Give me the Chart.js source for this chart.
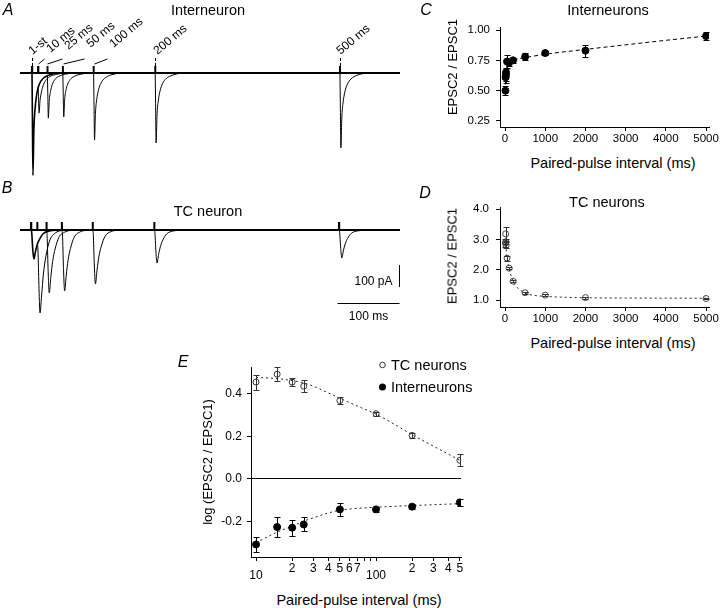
<!DOCTYPE html>
<html>
<head>
<meta charset="utf-8">
<script src="https://cdn.jsdelivr.net/npm/chart.js@4.4.1/dist/chart.umd.min.js"></script>
<style>
  body { margin: 0; background: #fff; }
  #fig { position: relative; width: 720px; height: 608px; overflow: hidden;
         font-family: 'Liberation Sans', Arial, sans-serif; color: #000; }
  #fig canvas { position: absolute; }
  .lbl { position: absolute; white-space: nowrap; line-height: 1; transform: translate(-50%, -50%); }
  .letter { font-style: italic; font-size: 16px; }
  .ttl { font-size: 14.5px; }
  .ax { font-size: 14.5px; }
  .yax { font-size: 13px; transform: translate(-50%, -50%) rotate(-90deg); }
</style>
</head>
<body>
<div id="fig">
  <canvas id="chartA" width="420" height="180" style="left:0px;top:0px"></canvas>
  <canvas id="chartB" width="420" height="150" style="left:0px;top:185px"></canvas>
  <canvas id="chartC" width="290" height="150" style="left:430px;top:0px"></canvas>
  <canvas id="chartD" width="290" height="145" style="left:430px;top:185px"></canvas>
  <canvas id="chartE" width="300" height="225" style="left:180px;top:355px"></canvas>

  <div class="lbl letter" style="left:8px;top:10px">A</div>
  <div class="lbl letter" style="left:7px;top:188px">B</div>
  <div class="lbl letter" style="left:426px;top:10px">C</div>
  <div class="lbl letter" style="left:425px;top:193px">D</div>
  <div class="lbl letter" style="left:183px;top:362px">E</div>

  <div class="lbl ttl" style="left:208px;top:10px">Interneuron</div>
  <div class="lbl ttl" style="left:208px;top:211px">TC neuron</div>
  <div class="lbl ttl" style="left:608px;top:10px">Interneurons</div>
  <div class="lbl ttl" style="left:607px;top:202px">TC neurons</div>

  <div class="lbl ax" style="left:613px;top:163px">Paired-pulse interval (ms)</div>
  <div class="lbl ax" style="left:613px;top:343px">Paired-pulse interval (ms)</div>
  <div class="lbl ax" style="left:359px;top:600px">Paired-pulse interval (ms)</div>
  <div class="lbl yax" style="left:452px;top:67px">EPSC2 / EPSC1</div>
  <div class="lbl yax" style="left:452px;top:256px">EPSC2 / EPSC1</div>
  <div class="lbl yax" style="left:207px;top:462px">log (EPSC2 / EPSC1)</div>
</div>

<script>
// === DATA ===
// stimulus times (ms) and their labels, panels A/B
const stimTimes  = [0, 10, 25, 50, 100, 200, 500];
const stimLabels = ['1-st', '10 ms', '25 ms', '50 ms', '100 ms', '200 ms', '500 ms'];

// panel A, interneuron EPSCs (pA) at ms after each stimulus
const aOffsets = [0, 0.6, 1.5, 3, 5, 8, 12, 18, 28, 42];
const aFirst = [0, -186, -465, -260, -160, -90, -50, -25, -9, 0];
const a10    = [-60, -120, -182, -125, -90, -58, -35, -18, -7, 0];
const a25    = [-14, -90, -205, -125, -85, -52, -30, -16, -6, 0];
const a50    = [-2, -82, -200, -120, -80, -50, -30, -16, -6, 0];
const a100   = [0, -122, -305, -183, -122, -76, -46, -24, -9, 0];
const a200   = [0, -127, -318, -190, -127, -80, -48, -25, -10, 0];
const a500   = [0, -136, -340, -204, -136, -85, -51, -27, -10, 0];

// panel B, TC neuron EPSCs (pA)
const bOffsets = [0, 1, 2.5, 4.5, 7, 10, 14, 20, 30, 45];
const bFirst = [0, -10, -80, -132, -100, -66, -40, -16, -4, 0];
const b10    = [-66, -80, -230, -377, -300, -200, -120, -50, -12, 0];
const b25    = [-5, -25, -170, -286, -215, -143, -86, -34, -9, 0];
const b50    = [0, -22, -166, -277, -208, -138, -83, -33, -8, 0];
const b100   = [0, -20, -147, -245, -184, -122, -74, -29, -7, 0];
const b200   = [0, -12, -90, -150, -112, -75, -45, -18, -5, 0];
const b500   = [0, -10, -76, -127, -95, -63, -38, -15, -4, 0];

// panel C, interneurons
const cIntervals = [10, 15, 20, 25, 50, 100, 200, 500, 1000, 2000, 5000];
const cRatio = [0.50, 0.61, 0.63, 0.65, 0.74, 0.73, 0.75, 0.78, 0.81, 0.83, 0.95];
const cErr   = [0.04, 0.05, 0.05, 0.04, 0.05, 0.03, 0.02, 0.03, 0.02, 0.05, 0.03];
const cFitX  = [10, 20, 35, 60, 100, 200, 500, 1000, 2000, 3000, 4000, 5000];
const cFitY  = [0.55, 0.63, 0.68, 0.715, 0.735, 0.75, 0.772, 0.80, 0.84, 0.878, 0.915, 0.95];
const cTicksX = [0, 1000, 2000, 3000, 4000, 5000];
const cTicksY = [0.25, 0.50, 0.75, 1.00];

// panel D, TC neurons
const dRatio = [2.88, 3.18, 2.92, 2.80, 2.38, 2.05, 1.62, 1.24, 1.16, 1.08, 1.05];
const dErr   = [0.12, 0.24, 0.08, 0.10, 0.08, 0.04, 0.04, 0.03, 0.03, 0.03, 0.03];
const dFitX  = [10, 25, 50, 100, 200, 300, 500, 700, 1000, 1500, 2000, 3000, 5000];
const dFitY  = [3.0, 2.75, 2.4, 2.05, 1.62, 1.42, 1.23, 1.16, 1.12, 1.09, 1.075, 1.065, 1.06];
const dTicksY = [1.0, 2.0, 3.0, 4.0];

// panel E, log ratios
const eIntervals = [10, 15, 20, 25, 50, 100, 200, 500];
const eTcLog = [0.456, 0.493, 0.456, 0.437, 0.369, 0.307, 0.205, 0.088];
const eTcErr = [0.035, 0.032, 0.018, 0.028, 0.017, 0.010, 0.012, 0.028];
const eInLog = [-0.308, -0.226, -0.229, -0.214, -0.143, -0.143, -0.130, -0.110];
const eInErr = [0.034, 0.045, 0.037, 0.033, 0.031, 0.010, 0.012, 0.015];
const eFitX  = [10, 15, 20, 25, 30, 40, 50, 70, 100, 150, 200, 300, 500];
const eTcFit = [0.478, 0.472, 0.463, 0.452, 0.437, 0.405, 0.38, 0.343, 0.305, 0.25, 0.208, 0.155, 0.088];
const eInFit = [-0.30, -0.25, -0.222, -0.198, -0.183, -0.16, -0.147, -0.138, -0.133, -0.128, -0.125, -0.121, -0.116];
const eTicksX = [10, 20, 30, 40, 50, 60, 70, 80, 90, 100, 200, 300, 400, 500];
const eTickLabels = ['10', '2', '3', '4', '5', '6', '7', '', '', '100', '2', '3', '4', '5'];
const eTicksY = [-0.2, 0.0, 0.2, 0.4];
const legendNames = ['TC neurons', 'Interneurons'];

// === DEFAULTS ===
const FONT = "'Liberation Sans', Arial, sans-serif";
Chart.defaults.font.family = FONT;
Chart.defaults.color = '#000';

const pts = (xs, ys) => xs.map((x, i) => ({ x: x, y: ys[i] }));

function sweep(t0, offsets, vals, width) {
    return {
        data: offsets.map((o, i) => ({ x: t0 + o, y: vals[i] })),
        showLine: true, borderColor: '#000', borderWidth: width,
        pointRadius: 0, cubicInterpolationMode: 'monotone'
    };
}

// flat holding current with a small stimulus artifact at every stim time
function baseline(xmin, xmax, spike) {
    const d = [{ x: xmin, y: 0 }];
    stimTimes.forEach(t => {
        d.push({ x: t - 0.3, y: 0 }, { x: t, y: spike }, { x: t + 0.3, y: 0 });
    });
    d.push({ x: xmax, y: 0 });
    return { data: d, showLine: true, borderColor: '#000', borderWidth: 2, pointRadius: 0, tension: 0 };
}

// === PLUGINS ===
const errorBars = {
    id: 'errorBars',
    afterDatasetsDraw(chart) {
        const ctx = chart.ctx, ys = chart.scales.y;
        chart.data.datasets.forEach((ds, i) => {
            if (!ds.errors) return;
            const meta = chart.getDatasetMeta(i);
            ctx.save();
            ctx.strokeStyle = ds.barColor || '#000';
            ctx.lineWidth = 1;
            meta.data.forEach((pt, j) => {
                const v = ds.data[j].y, e = ds.errors[j];
                const x = Math.round(pt.x) + 0.5;
                const top = Math.round(ys.getPixelForValue(v + e)) + 0.5;
                const bot = Math.round(ys.getPixelForValue(v - e)) + 0.5;
                ctx.beginPath();
                ctx.moveTo(x, top); ctx.lineTo(x, bot);
                ctx.moveTo(x - 3, top); ctx.lineTo(x + 3, top);
                ctx.moveTo(x - 3, bot); ctx.lineTo(x + 3, bot);
                ctx.stroke();
            });
            ctx.restore();
        });
    }
};

// rotated stimulus labels above trace A
const stimMarks = {
    id: 'stimMarks',
    afterDraw(chart) {
        const ctx = chart.ctx, xs = chart.scales.x;
        const shift = [0, 12, 21, 27, 19, 2, 0];
        const baseY = [55, 53, 50, 48, 48, 55, 55];
        ctx.save();
        ctx.strokeStyle = '#000'; ctx.fillStyle = '#000'; ctx.lineWidth = 1;
        ctx.font = '12px ' + FONT;
        stimTimes.forEach((t, i) => {
            const px = Math.round(xs.getPixelForValue(t)) + 0.5;
            ctx.beginPath();
            if (shift[i] < 5) {
                ctx.setLineDash([3, 2]);
                ctx.moveTo(px, 58); ctx.lineTo(px, 66);
            } else {
                ctx.moveTo(px, 64); ctx.lineTo(px + shift[i] - 6, 59);
            }
            ctx.stroke();
            ctx.setLineDash([]);
            ctx.save();
            ctx.translate(px + shift[i], baseY[i]);
            ctx.rotate(-40 * Math.PI / 180);
            ctx.fillText(stimLabels[i], 0, 0);
            ctx.restore();
        });
        ctx.restore();
    }
};

// 100 pA / 100 ms scale bars in B
const scaleBars = {
    id: 'scaleBars',
    afterDraw(chart) {
        const ctx = chart.ctx, xs = chart.scales.x, ys = chart.scales.y;
        const x1 = Math.round(xs.getPixelForValue(597)) + 0.5;
        const x0 = Math.round(xs.getPixelForValue(497)) + 0.5;
        const yTop = ys.getPixelForValue(-159), yBot = ys.getPixelForValue(-259);
        const yH = Math.round(ys.getPixelForValue(-332)) + 0.5;
        ctx.save();
        ctx.strokeStyle = '#000'; ctx.fillStyle = '#000'; ctx.lineWidth = 1;
        ctx.beginPath();
        ctx.moveTo(x1, yTop); ctx.lineTo(x1, yBot);
        ctx.moveTo(x0, yH); ctx.lineTo(x1, yH);
        ctx.stroke();
        ctx.font = '12px ' + FONT;
        ctx.textBaseline = 'middle';
        ctx.textAlign = 'right';
        ctx.fillText('100 pA', x1 - 7, yBot - 5);
        ctx.textAlign = 'center';
        ctx.fillText('100 ms', (x0 + x1) / 2, yH + 13);
        ctx.restore();
    }
};

// log-axis labels of E (decade labels sit lower)
const eXLabels = {
    id: 'eXLabels',
    afterDraw(chart) {
        const ctx = chart.ctx, xs = chart.scales.x, bottom = chart.chartArea.bottom;
        ctx.save();
        ctx.font = '12px ' + FONT; ctx.fillStyle = '#000';
        ctx.textAlign = 'center'; ctx.textBaseline = 'middle';
        eTicksX.forEach((v, i) => {
            if (!eTickLabels[i]) return;
            const major = eTickLabels[i].length > 1;
            ctx.fillText(eTickLabels[i], xs.getPixelForValue(v), bottom + (major ? 19 : 12));
        });
        ctx.restore();
    }
};

const eLegend = {
    id: 'eLegend',
    afterDraw(chart) {
        const ctx = chart.ctx;
        ctx.save();
        ctx.font = '14.5px ' + FONT; ctx.textBaseline = 'middle';
        legendNames.forEach((name, i) => {
            const y = 10 + i * 22;
            ctx.beginPath();
            if (i === 0) {
                ctx.arc(202.5, y, 2.8, 0, 2 * Math.PI);
                ctx.strokeStyle = '#333'; ctx.lineWidth = 1; ctx.stroke();
            } else {
                ctx.arc(202.5, y, 3.5, 0, 2 * Math.PI);
                ctx.fillStyle = '#000'; ctx.fill();
            }
            ctx.fillStyle = '#000';
            ctx.fillText(name, 211, y + 1);
        });
        ctx.restore();
    }
};

const baseOpts = { responsive: false, animation: false, events: [],
                   plugins: { legend: { display: false }, tooltip: { enabled: false } } };

// === A: INTERNEURON TRACES ===
new Chart(document.getElementById('chartA'), {
    type: 'scatter',
    data: {
        datasets: [
            baseline(-19.5, 597.5, 32),
            sweep(0, aOffsets, aFirst, 1.6),
            sweep(10, aOffsets, a10, 1),
            sweep(25, aOffsets, a25, 1),
            sweep(50, aOffsets, a50, 1),
            sweep(100, aOffsets, a100, 1),
            sweep(200, aOffsets, a200, 1),
            sweep(500, aOffsets, a500, 1)
        ]
    },
    options: Object.assign({}, baseOpts, {
        layout: { padding: { left: 20, right: 20, top: 60, bottom: 0 } },
        scales: {
            x: { type: 'linear', display: false, min: -19.5, max: 597.5 },
            y: { display: false, min: -486, max: 59 }
        }
    }),
    plugins: [stimMarks]
});

// === B: TC NEURON TRACES ===
new Chart(document.getElementById('chartB'), {
    type: 'scatter',
    data: {
        datasets: [
            baseline(-18, 599, 36),
            sweep(0, bOffsets, bFirst, 1.6),
            sweep(10, bOffsets, b10, 1),
            sweep(25, bOffsets, b25, 1),
            sweep(50, bOffsets, b50, 1),
            sweep(100, bOffsets, b100, 1),
            sweep(200, bOffsets, b200, 1),
            sweep(500, bOffsets, b500, 1)
        ]
    },
    options: Object.assign({}, baseOpts, {
        layout: { padding: { left: 20, right: 20, top: 35, bottom: 0 } },
        scales: {
            x: { type: 'linear', display: false, min: -18, max: 599 },
            y: { display: false, min: -477, max: 45.5 }
        }
    }),
    plugins: [scaleBars]
});

// shared axis pieces for C-E
function xLin() {
    return {
        type: 'linear', min: -125, max: 5075,
        afterBuildTicks: s => { s.ticks = cTicksX.map(v => ({ value: v })); },
        afterFit: s => { s.height = 23; },
        ticks: { font: { size: 11.5 }, padding: 1, maxRotation: 0, autoSkip: false,
                 callback: v => String(v) },
        grid: { drawOnChartArea: false, tickLength: 4, color: '#000' },
        border: { color: '#000' }
    };
}
function yLin(min, max, ticks, digits, pad) {
    return {
        min: min, max: max,
        afterBuildTicks: s => { s.ticks = ticks.map(v => ({ value: v })); },
        afterFit: s => { s.width = 70; },
        ticks: { font: { size: 11.5 }, padding: pad, callback: v => Number(v).toFixed(digits) },
        grid: { drawOnChartArea: false, tickLength: 4, color: '#000' },
        border: { color: '#000' }
    };
}

// === C: INTERNEURONS RATIO ===
new Chart(document.getElementById('chartC'), {
    type: 'scatter',
    data: {
        datasets: [
            { data: pts(cIntervals, cRatio), errors: cErr, pointRadius: 3.5,
              pointBackgroundColor: '#000', pointBorderColor: '#000' },
            { data: pts(cFitX, cFitY), showLine: true, pointRadius: 0, borderColor: '#000',
              borderWidth: 1, borderDash: [4, 3], cubicInterpolationMode: 'monotone' }
        ]
    },
    options: Object.assign({}, baseOpts, {
        layout: { padding: { left: 0, right: 10, top: 27, bottom: 0 } },
        scales: { x: xLin(), y: yLin(0.2, 1.025, cTicksY, 2, 6) }
    }),
    plugins: [errorBars]
});

// === D: TC NEURONS RATIO ===
new Chart(document.getElementById('chartD'), {
    type: 'scatter',
    data: {
        datasets: [
            { data: pts(cIntervals, dRatio), errors: dErr, barColor: '#333', pointRadius: 3,
              pointBackgroundColor: 'rgba(0,0,0,0)', pointBorderColor: '#444', pointBorderWidth: 1 },
            { data: pts(dFitX, dFitY), showLine: true, pointRadius: 0, borderColor: '#222',
              borderWidth: 1, borderDash: [2, 3], cubicInterpolationMode: 'monotone' }
        ]
    },
    options: Object.assign({}, baseOpts, {
        layout: { padding: { left: 0, right: 10, top: 22, bottom: 0 } },
        scales: { x: xLin(), y: yLin(0.77, 4.066, dTicksY, 1, 7) }
    }),
    plugins: [errorBars]
});

// === E: LOG RATIOS ON LOG INTERVAL AXIS ===
new Chart(document.getElementById('chartE'), {
    type: 'scatter',
    data: {
        datasets: [
            { data: pts(eIntervals, eTcLog), errors: eTcErr, barColor: '#333', pointRadius: 3,
              pointBackgroundColor: 'rgba(0,0,0,0)', pointBorderColor: '#333', pointBorderWidth: 1 },
            { data: pts(eIntervals, eInLog), errors: eInErr, pointRadius: 3.5,
              pointBackgroundColor: '#000', pointBorderColor: '#000' },
            { data: pts(eFitX, eTcFit), showLine: true, pointRadius: 0, borderColor: '#222',
              borderWidth: 1, borderDash: [2, 3], cubicInterpolationMode: 'monotone' },
            { data: pts(eFitX, eInFit), showLine: true, pointRadius: 0, borderColor: '#222',
              borderWidth: 1, borderDash: [2, 3], cubicInterpolationMode: 'monotone' }
        ]
    },
    options: Object.assign({}, baseOpts, {
        layout: { padding: { left: 0, right: 19, top: 10, bottom: 0 } },
        scales: {
            x: {
                type: 'logarithmic', min: 9.08, max: 511,
                afterBuildTicks: s => { s.ticks = eTicksX.map(v => ({ value: v })); },
                afterFit: s => { s.height = 23; },
                ticks: { display: false },
                grid: { drawOnChartArea: false, tickLength: 4, color: '#000' },
                border: { color: '#000' }
            },
            y: {
                min: -0.367, max: 0.526,
                afterBuildTicks: s => { s.ticks = eTicksY.map(v => ({ value: v })); },
                afterFit: s => { s.width = 71; },
                ticks: { font: { size: 12 }, padding: 5, callback: v => Number(v).toFixed(1) },
                grid: { tickLength: 4, tickColor: '#000',
                        color: c => (c.tick && c.tick.value === 0) ? '#000' : 'rgba(0,0,0,0)' },
                border: { color: '#000' }
            }
        }
    }),
    plugins: [errorBars, eXLabels, eLegend]
});
</script>
</body>
</html>
